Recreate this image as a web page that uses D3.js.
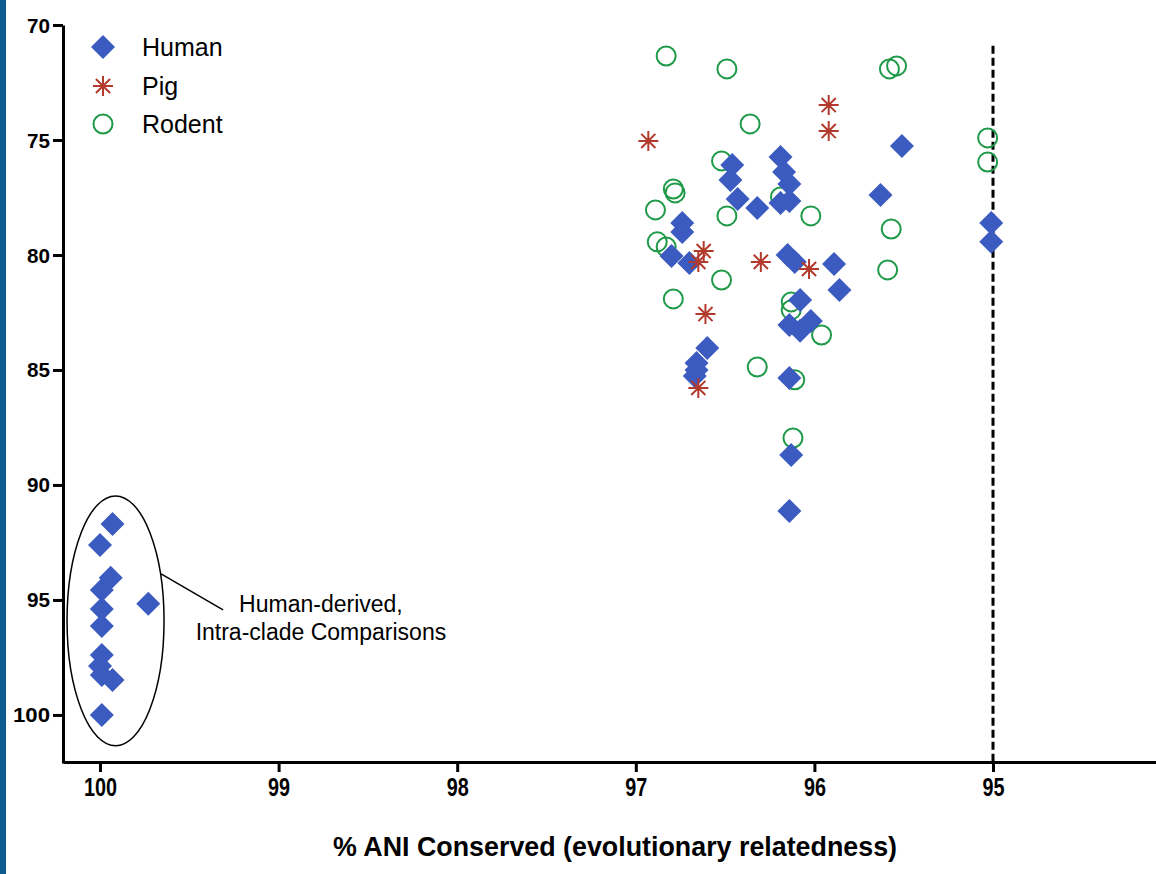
<!DOCTYPE html>
<html>
<head>
<meta charset="utf-8">
<script src="https://cdn.jsdelivr.net/npm/d3@7"></script>
<style>
    body { margin: 0; background: #fff; }
    svg { display: block; }
    text { font-family: "Liberation Sans", Arial, sans-serif; }
</style>
</head>
<body>
<svg id="ani-chart"></svg>
<script>
// Human-derived points as [% ANI conserved, y value]
const human_points = [
    [99.93, 91.70], [100.00, 92.61], [99.94, 94.04], [99.99, 94.57], [99.99, 95.39],
    [99.99, 96.13], [99.99, 97.39], [100.00, 97.87], [99.99, 98.26], [99.93, 98.48],
    [99.99, 100.0], [99.73, 95.17],
    [96.46, 76.09], [96.47, 76.74], [96.43, 77.57], [96.32, 77.96], [96.19, 75.74],
    [96.17, 76.39], [96.14, 76.91], [96.14, 77.65], [96.19, 77.74], [95.63, 77.39],
    [95.51, 75.26], [96.74, 78.61], [96.74, 79.00], [96.80, 80.04], [96.70, 80.35],
    [96.15, 80.00], [96.11, 80.30], [95.89, 80.39], [95.86, 81.52], [96.08, 81.96],
    [96.14, 83.04], [96.02, 82.87], [96.08, 83.30], [96.60, 84.04], [96.66, 84.70],
    [96.66, 85.00], [96.67, 85.26], [96.14, 85.35], [96.13, 88.70], [96.14, 91.13],
    [95.01, 78.61], [95.01, 79.43]
];

// Pig-derived points
const pig_points = [
    [96.93, 75.04], [95.92, 73.48], [95.92, 74.61], [96.62, 79.83], [96.65, 80.30],
    [96.30, 80.30], [96.03, 80.61], [96.61, 82.57], [96.65, 85.78]
];

// Rodent-derived points
const rodent_points = [
    [96.83, 71.35], [96.49, 71.91], [95.58, 71.91], [95.54, 71.78], [96.36, 74.30],
    [96.52, 75.91], [96.79, 77.13], [96.78, 77.30], [96.89, 78.04], [96.49, 78.30],
    [96.02, 78.30], [95.57, 78.87], [96.88, 79.43], [96.83, 79.65], [95.59, 80.65],
    [96.52, 81.09], [96.79, 81.91], [96.13, 82.04], [96.13, 82.39], [95.96, 83.48],
    [96.32, 84.87], [96.11, 85.43], [96.12, 87.96], [96.19, 77.48], [95.03, 74.91],
    [95.03, 75.96]
];

// Axis ticks and labels
const x_tick_values = [100, 99, 98, 97, 96, 95];
const y_tick_values = [70, 75, 80, 85, 90, 95, 100];
const legend_labels = ["Human", "Pig", "Rodent"];
const x_axis_title = "% ANI Conserved (evolutionary relatedness)";

// 95% cut-off line and the intra-clade annotation (in data units)
const cutoff_line = { x: 95, y_top: 70.9 };
const clade_ellipse = { cx: 99.913, cy: 95.91, rx: 0.2716, ry: 5.435 };
const clade_label = ["Human-derived,", "Intra-clade Comparisons"];

// Chart size and colours
const chart_width = 1156, chart_height = 874;
const colors = { human: "#3b5bc0", pig: "#b23a2c", rodent: "#1f9a48", band: "#0d5b91" };

const svg = d3.select("#ani-chart")
    .attr("width", chart_width)
    .attr("height", chart_height);

// Scales: x axis runs from 100 down, y axis from 70 at the top
const x_scale = d3.scaleLinear().domain([100.2072, 94.0874]).range([63, 1156]);
const y_scale = d3.scaleLinear().domain([70, 102.09]).range([25, 763]);

// Blue band on the left edge
svg.append("rect")
    .attr("x", 0).attr("y", 0)
    .attr("width", 6).attr("height", chart_height)
    .attr("fill", colors.band);

// Marker shapes centred on (0,0)
const diamond_path = "M0,-12L12,0L0,12L-12,0Z";
const asterisk_path = d3.range(4).map(function (i) {
    const a = i * Math.PI / 4, r = 10;
    return "M" + (-r * Math.cos(a)) + "," + (-r * Math.sin(a)) + "L" + (r * Math.cos(a)) + "," + (r * Math.sin(a));
}).join("");

// Dashed 95% line
svg.append("line")
    .attr("x1", x_scale(cutoff_line.x)).attr("x2", x_scale(cutoff_line.x))
    .attr("y1", y_scale(cutoff_line.y_top)).attr("y2", y_scale(102.09))
    .attr("stroke", "#000")
    .attr("stroke-width", 3)
    .attr("stroke-dasharray", "8,4");

// Rodent circles
svg.append("g").selectAll("circle")
    .data(rodent_points)
    .enter().append("circle")
    .attr("cx", function (d) { return x_scale(d[0]); })
    .attr("cy", function (d) { return y_scale(d[1]); })
    .attr("r", 9.5)
    .attr("fill", "none")
    .attr("stroke", colors.rodent)
    .attr("stroke-width", 2);

// Human diamonds
svg.append("g").selectAll("path")
    .data(human_points)
    .enter().append("path")
    .attr("d", diamond_path)
    .attr("transform", function (d) { return "translate(" + x_scale(d[0]) + "," + y_scale(d[1]) + ")"; })
    .attr("fill", colors.human);

// Pig asterisks
svg.append("g").selectAll("path")
    .data(pig_points)
    .enter().append("path")
    .attr("d", asterisk_path)
    .attr("transform", function (d) { return "translate(" + x_scale(d[0]) + "," + y_scale(d[1]) + ")"; })
    .attr("fill", "none")
    .attr("stroke", colors.pig)
    .attr("stroke-width", 2);

// Ellipse round the intra-clade comparisons
const ell_cx = x_scale(clade_ellipse.cx), ell_cy = y_scale(clade_ellipse.cy);
const ell_rx = Math.abs(x_scale(clade_ellipse.cx + clade_ellipse.rx) - ell_cx);
const ell_ry = Math.abs(y_scale(clade_ellipse.cy + clade_ellipse.ry) - ell_cy);
svg.append("ellipse")
    .attr("cx", ell_cx).attr("cy", ell_cy)
    .attr("rx", ell_rx).attr("ry", ell_ry)
    .attr("fill", "none")
    .attr("stroke", "#000")
    .attr("stroke-width", 1.5);

// Leader line from the ellipse to its label
svg.append("line")
    .attr("x1", x_scale(99.658)).attr("y1", y_scale(93.87))
    .attr("x2", x_scale(99.311)).attr("y2", y_scale(95.43))
    .attr("stroke", "#000")
    .attr("stroke-width", 1.5);

svg.append("g").selectAll("text")
    .data(clade_label)
    .enter().append("text")
    .attr("x", x_scale(98.763))
    .attr("y", function (d, i) { return 612 + i * 28; })
    .attr("text-anchor", "middle")
    .attr("font-size", 23)
    .attr("fill", "#000")
    .text(function (d) { return d; });

// Y axis
const y_axis = svg.append("g")
    .attr("transform", "translate(63,0)")
    .call(d3.axisLeft(y_scale).tickValues(y_tick_values).tickFormat(d3.format("d"))
        .tickSize(10).tickPadding(3).tickSizeOuter(0));
y_axis.select(".domain").attr("stroke-width", 3);
y_axis.selectAll(".tick line").attr("stroke-width", 3);
y_axis.selectAll(".tick text")
    .attr("font-size", 19.5)
    .attr("font-weight", "bold")
    .attr("font-family", "'Liberation Sans', Arial, sans-serif")
    .attr("fill", "#000")
    .attr("dy", "0.36em")
    .attr("textLength", function (d) { return d >= 100 ? 37 : 23; })
    .attr("lengthAdjust", "spacingAndGlyphs");

// X axis
const x_axis = svg.append("g")
    .attr("transform", "translate(0,762)")
    .call(d3.axisBottom(x_scale).tickValues(x_tick_values).tickFormat(d3.format("d"))
        .tickSize(10).tickPadding(6).tickSizeOuter(0));
x_axis.select(".domain").attr("stroke-width", 3);
x_axis.selectAll(".tick line").attr("stroke-width", 3);
x_axis.selectAll(".tick text")
    .attr("font-size", 26)
    .attr("font-weight", "bold")
    .attr("font-family", "'Liberation Sans', Arial, sans-serif")
    .attr("fill", "#000")
    .attr("textLength", function (d) { return d >= 100 ? 33 : 22; })
    .attr("lengthAdjust", "spacingAndGlyphs");

// X axis title
svg.append("text")
    .attr("x", 615)
    .attr("y", 856)
    .attr("text-anchor", "middle")
    .attr("font-size", 28)
    .attr("font-weight", "bold")
    .attr("fill", "#000")
    .attr("textLength", 564)
    .attr("lengthAdjust", "spacingAndGlyphs")
    .text(x_axis_title);

// Legend
const legend_rows = [
    { label: legend_labels[0], y: 47 },
    { label: legend_labels[1], y: 86 },
    { label: legend_labels[2], y: 124 }
];
const legend = svg.append("g");
legend.append("path")
    .attr("d", diamond_path)
    .attr("transform", "translate(103," + legend_rows[0].y + ")")
    .attr("fill", colors.human);
legend.append("path")
    .attr("d", asterisk_path)
    .attr("transform", "translate(103," + legend_rows[1].y + ")")
    .attr("fill", "none")
    .attr("stroke", colors.pig)
    .attr("stroke-width", 2);
legend.append("circle")
    .attr("cx", 103).attr("cy", legend_rows[2].y)
    .attr("r", 9.5)
    .attr("fill", "none")
    .attr("stroke", colors.rodent)
    .attr("stroke-width", 2);
legend.selectAll("text")
    .data(legend_rows)
    .enter().append("text")
    .attr("x", 142)
    .attr("y", function (d) { return d.y + 9; })
    .attr("font-size", 25)
    .attr("fill", "#000")
    .text(function (d) { return d.label; });
</script>
</body>
</html>
